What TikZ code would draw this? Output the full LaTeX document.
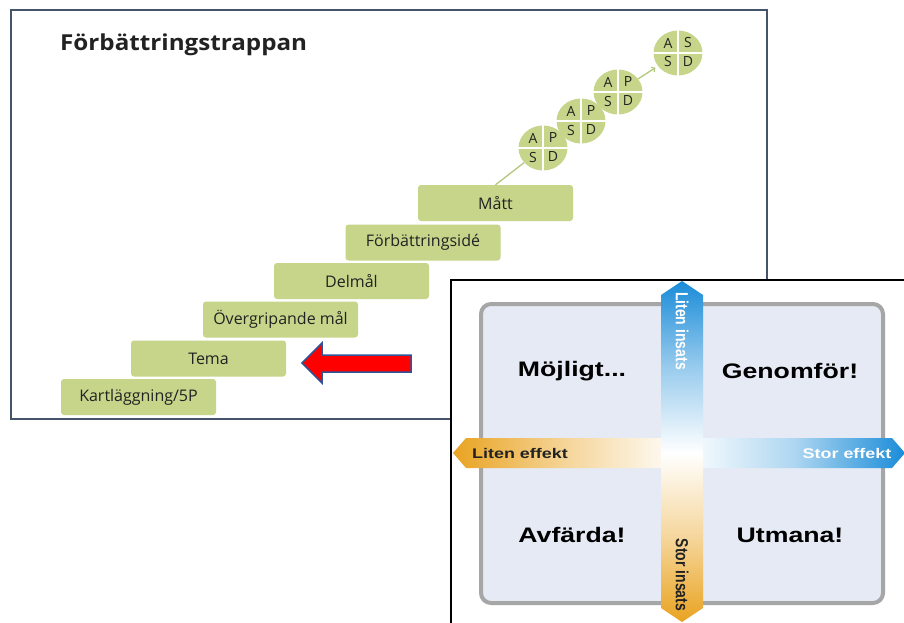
\documentclass[tikz,border=0pt]{standalone}
\usepackage{graphicx}
\usepackage{fontspec}
\setmainfont{Open Sans}
\newfontfamily\arialfont{Liberation Sans}
\usetikzlibrary{shapes.geometric}
\definecolor{stepgreen}{HTML}{C6D58A}
\definecolor{linegreen}{HTML}{B3C87A}
\definecolor{framecol}{HTML}{44546A}
\definecolor{arrowred}{HTML}{FF0000}
\definecolor{arrowedge}{HTML}{2F5597}
\definecolor{graybord}{HTML}{A6A6A6}
\definecolor{grayfill}{HTML}{E5EAF4}
\definecolor{blueA}{HTML}{1A8CD8}
\definecolor{orangeA}{HTML}{E9A321}
\definecolor{txt}{HTML}{222222}
\newcommand{\hs}[2]{\scalebox{#1}[1]{#2}}
\newcommand{\vs}[2]{\scalebox{1}[#1]{#2}}
\tikzset{
  stepbox/.style={fill=stepgreen, rounded corners=3pt, minimum width=155pt, minimum height=36pt,
    inner sep=0pt, text=txt, font=\fontsize{16}{18}\selectfont},
  pdsa/.style={ellipse, fill=stepgreen, minimum width=49pt, minimum height=45pt, inner sep=0pt},
  pletter/.style={text=txt, font=\fontsize{14}{16}\selectfont, inner sep=0pt},
  quad/.style={font=\arialfont\bfseries\fontsize{21}{25}\selectfont, text=black},
  axlab/.style={font=\arialfont\bfseries\fontsize{14}{16}\selectfont, inner sep=0pt},
}
\begin{document}
\begin{tikzpicture}[x=1pt,y=-1pt]
\useasboundingbox (0,0) rectangle (904,623);
\fill[white] (0,0) rectangle (904,623);
% left frame
\draw[framecol, line width=1.5pt] (11,10) rectangle (767,419);
\node[anchor=west, font=\bfseries\fontsize{22}{26}\selectfont, text=txt, inner sep=0pt] (title) at (60,45) {\hs{1.1}{Förbättringstrappan}};
% steps
\node[stepbox] (s1) at (138.5,397) {Kartläggning/5P};
\node[stepbox] (s2) at (208.5,358.5) {Tema};
\node[stepbox] (s3) at (280.5,319.5) {Övergripande mål};
\node[stepbox] (s4) at (351.5,281) {Delmål};
\node[stepbox] (s5) at (423,242.5) {Förbättringsidé};
\node[stepbox] (s6) at (495.5,203) {Mått};
% PDSA circles
\foreach \n/\cx/\cy/\a/\b/\c/\d in {c1/543/148/A/P/S/D, c2/581/121/A/P/S/D, c3/618/92/A/P/S/D, c4/678/53/A/S/S/D}{
  \node[pdsa] (\n) at (\cx,\cy) {};
  \draw[white, line width=1.2pt] (\n.north) -- (\n.south) (\n.west) -- (\n.east);
  \node[pletter] (\n a) at (\cx-10,\cy-10) {\a};
  \node[pletter] (\n b) at (\cx+10,\cy-10) {\b};
  \node[pletter] (\n c) at (\cx-10,\cy+9) {\c};
  \node[pletter] (\n d) at (\cx+10,\cy+9) {\d};
}
\draw[linegreen, line width=1.3pt] (s6.north) -- (c1);
\draw[linegreen, line width=1.3pt, ->, shorten >=3pt] (c3) -- (c4);
% red arrow
\draw[fill=arrowred, draw=arrowedge, line width=1.5pt, line join=miter]
  (302,363) -- (322,343) -- (322,355) -- (411,355) -- (411,372) -- (322,372) -- (322,383) -- cycle;
% right panel
\fill[white] (451,280) rectangle (910,630);
\draw[black, line width=2pt] (451,630) -- (451,280) -- (910,280);
\draw[graybord, fill=grayfill, line width=4pt, rounded corners=10pt] (481,304) rectangle (883,603);
% horizontal bar
\shade[left color=orangeA, right color=white, middle color=orangeA!45] (453,453) -- (466,438) -- (682,438) -- (682,468) -- (466,468) -- cycle;
\shade[left color=white, right color=blueA, middle color=blueA!35] (682,438) -- (892,438) -- (905,453) -- (892,468) -- (682,468) -- cycle;
% vertical bar
\shade[top color=blueA, bottom color=white, middle color=blueA!45] (682,281) -- (703,295) -- (703,453) -- (661,453) -- (661,295) -- cycle;
\shade[top color=white, bottom color=orangeA, middle color=orangeA!45] (661,453) -- (703,453) -- (703,608) -- (682,622) -- (661,608) -- cycle;
% labels
\node[axlab, text=white, rotate=-90] (li) at (682,331) {\vs{1.25}{Liten insats}};
\node[axlab, text=txt, rotate=-90] (si) at (682,575) {\vs{1.25}{Stor insats}};
\node[axlab, text=txt] (le) at (520,453) {\hs{1.28}{Liten effekt}};
\node[axlab, text=white] (se) at (847,453) {\hs{1.28}{Stor effekt}};
\node[quad] (q1) at (572,371) {\hs{1.27}{Möjligt...}};
\node[quad] (q2) at (790,371) {\hs{1.27}{Genomför!}};
\node[quad] (q3) at (572,535) {\hs{1.27}{Avfärda!}};
\node[quad] (q4) at (790,535) {\hs{1.27}{Utmana!}};
\end{tikzpicture}
\end{document}
